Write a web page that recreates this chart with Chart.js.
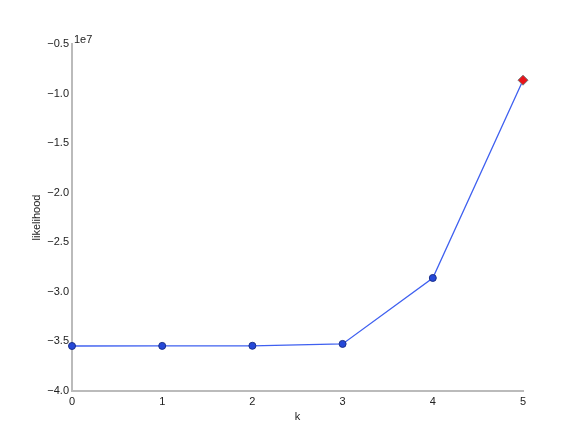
<!DOCTYPE html>
<html>
<head>
<meta charset="utf-8">
<script src="https://cdn.jsdelivr.net/npm/chart.js@4/dist/chart.umd.min.js"></script>
<style>
html,body{margin:0;padding:0;background:#fff;}
#wrap{width:581px;height:436px;position:relative;}
</style>
</head>
<body>
<div id="wrap"><canvas id="c" width="581" height="436"></canvas></div>
<script>
const kValues = [0, 1, 2, 3, 4, 5];
const likelihood = [-35460000, -35450000, -35440000, -35250000, -28600000, -8650000];
const yTickValues = [-40000000, -35000000, -30000000, -25000000, -20000000, -15000000, -10000000, -5000000];
const xTickValues = [0, 1, 2, 3, 4, 5];
const yScaleExponent = '1e7';
const xTitle = 'k';
const yTitle = 'likelihood';

const FONT = 'Liberation Sans, Arial, Helvetica, sans-serif';
const lastIdx = likelihood.length - 1;

const exponentPlugin = {
  id: 'exponent',
  afterDraw(chart) {
    const ctx = chart.ctx;
    const y = chart.scales.y;
    ctx.save();
    ctx.font = '11px ' + FONT;
    ctx.fillStyle = '#222';
    ctx.textAlign = 'left';
    ctx.textBaseline = 'bottom';
    ctx.fillText(yScaleExponent, y.right + 2, y.top + 1);
    ctx.restore();
  }
};

new Chart(document.getElementById('c'), {
  type: 'line',
  data: {
    datasets: [{
      data: kValues.map((k, i) => ({x: k, y: likelihood[i]})),
      borderColor: '#3f60f0',
      borderWidth: 1.3,
      tension: 0,
      pointRadius: kValues.map((k, i) => i === lastIdx ? 5 : 3.5),
      pointStyle: kValues.map((k, i) => i === lastIdx ? 'rectRot' : 'circle'),
      pointBackgroundColor: kValues.map((k, i) => i === lastIdx ? '#e8141b' : '#2548d8'),
      pointBorderColor: kValues.map((k, i) => i === lastIdx ? '#777' : '#1a2f8a'),
      pointBorderWidth: 1,
      clip: false
    }]
  },
  options: {
    responsive: false,
    animation: false,
    events: [],
    layout: {padding: {left: 0, right: 58, top: 44, bottom: 0}},
    plugins: {legend: {display: false}, tooltip: {enabled: false}},
    scales: {
      x: {
        type: 'linear',
        min: 0, max: 5,
        afterBuildTicks(s) { s.ticks = xTickValues.map(v => ({value: v})); },
        afterFit(s) { s.height = 45; },
        grid: {display: false, drawTicks: false},
        border: {display: true, color: '#bbbbbb', width: 2},
        ticks: {color: '#222', font: {family: FONT, size: 11}, padding: 4, maxRotation: 0,
                callback: v => String(v)},
        title: {display: true, text: xTitle, color: '#222', font: {family: FONT, size: 11}, padding: {top: 2, bottom: 12}}
      },
      y: {
        type: 'linear',
        min: -40000000, max: -5000000,
        afterBuildTicks(s) { s.ticks = yTickValues.map(v => ({value: v})); },
        afterFit(s) { s.width = 72; },
        grid: {display: false, drawTicks: false},
        border: {display: true, color: '#bbbbbb', width: 2},
        ticks: {color: '#222', font: {family: FONT, size: 11}, padding: 3,
                callback: v => (v / 1e7).toFixed(1).replace('-', '\u2212')},
        title: {display: true, text: yTitle, color: '#222', font: {family: FONT, size: 11}, padding: {top: 30, bottom: 6}}
      }
    }
  },
  plugins: [exponentPlugin]
});
</script>
</body>
</html>
